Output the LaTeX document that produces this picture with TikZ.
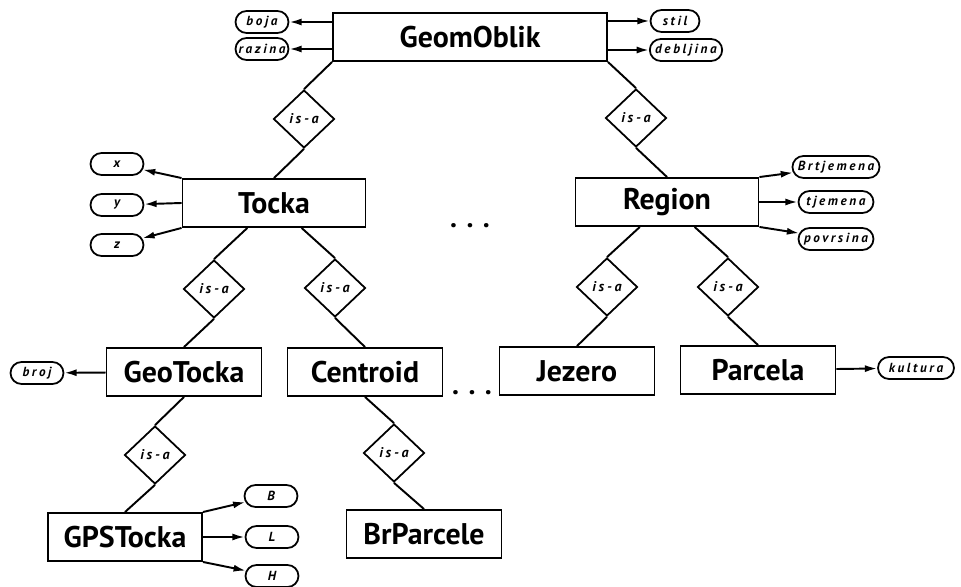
\documentclass[tikz,border=0pt]{standalone}
\usepackage{fontspec}
\setsansfont{PT Sans}
\newfontfamily\attrfont[LetterSpace=20]{PT Sans}
\usetikzlibrary{shapes.geometric,shapes.misc,arrows.meta}

\tikzset{
  entity/.style={draw, line width=1.1pt, minimum height=0.96cm, minimum width=3.1cm,
    font=\sffamily\bfseries\fontsize{17}{19}\selectfont},
  attrib/.style={draw, rounded rectangle, line width=1pt, minimum height=0.44cm,
    minimum width=1.2cm, inner xsep=2pt, inner ysep=0pt,
    font=\attrfont\bfseries\itshape\fontsize{7.5}{9}\selectfont},
  isa/.style={draw, diamond, line width=1pt, minimum width=1.22cm, minimum height=1.16cm,
    inner sep=0pt, font=\attrfont\bfseries\itshape\fontsize{8}{9}\selectfont},
  link/.style={line width=1.1pt},
  attr arrow/.style={line width=1.1pt, -{Latex[length=7pt,width=4pt]}},
}

\begin{document}
\begin{tikzpicture}[x=0.02cm, y=-0.02cm]
        \useasboundingbox (0,0) rectangle (961,587);

        % Entities
        \node[entity, minimum width=5.48cm] (GeomOblik) at (470,37) {GeomOblik};
        \node[entity, minimum width=3.66cm] (Tocka) at (274,203) {Tocka};
        \node[entity, minimum width=3.66cm] (Region) at (667,202) {Region};
        \node[entity] (GeoTocka) at (184,372) {GeoTocka};
        \node[entity] (Centroid) at (365,372) {Centroid};
        \node[entity] (Jezero) at (577,371) {Jezero};
        \node[entity] (Parcela) at (758,370) {Parcela};
        \node[entity, minimum width=3.08cm] (GPSTocka) at (125,537) {GPSTocka};
        \node[entity] (BrParcele) at (424,534) {BrParcele};

        \node[font=\sffamily\bfseries\fontsize{16}{18}\selectfont] (dotsA) at (470,226) {. . .};
        \node[font=\sffamily\bfseries\fontsize{16}{18}\selectfont] (dotsB) at (472,393) {. . .};

        % Is-a
        \node[isa] (isaA) at (304,119) {is-a};
        \node[isa] (isaB) at (636,118) {is-a};
        \node[isa] (isaC) at (214,289) {is-a};
        \node[isa] (isaD) at (335,288) {is-a};
        \node[isa] (isaE) at (607,287) {is-a};
        \node[isa] (isaF) at (728,287) {is-a};
        \node[isa] (isaG) at (155,455) {is-a};
        \node[isa] (isaH) at (394,453) {is-a};

        % Attributes
        \node[attrib] (boja) at (262,22) {boja};
        \node[attrib] (razina) at (262,49) {razina};
        \node[attrib, minimum width=1.12cm] (stil) at (675,21) {stil};
        \node[attrib] (debljina) at (686,50) {debljina};
        \node[attrib] (x) at (117,164) {x};
        \node[attrib] (y) at (117,205) {y};
        \node[attrib] (z) at (117,245) {z};
        \node[attrib, minimum width=1.64cm] (Brtjemena) at (836,167) {Brtjemena};
        \node[attrib, minimum width=1.64cm] (tjemena) at (836,202) {tjemena};
        \node[attrib, minimum width=1.64cm] (povrsina) at (836,239) {povrsina};
        \node[attrib] (broj) at (37,373) {broj};
        \node[attrib, minimum width=1.66cm] (kultura) at (916,368) {kultura};
        \node[attrib] (B) at (271,496) {B};
        \node[attrib] (L) at (272,537) {L};
        \node[attrib] (H) at (272,576) {H};

        % Edge
        \draw[link] (GeomOblik.south west) -- (isaA.north);
        \draw[link] (isaA.south) -- (Tocka.north);
        \draw[link] (GeomOblik.south east) -- (isaB.north);
        \draw[link] (isaB.south) -- (Region.north);
        \draw[link] (Tocka) -- (isaC.north);
        \draw[link] (isaC.south) -- (GeoTocka.north);
        \draw[link] (Tocka) -- (isaD.north);
        \draw[link] (isaD.south) -- (Centroid.north);
        \draw[link] (Region) -- (isaE.north);
        \draw[link] (isaE.south) -- (Jezero.north);
        \draw[link] (Region) -- (isaF.north);
        \draw[link] (isaF.south) -- (Parcela.north);
        \draw[link] (GeoTocka.south) -- (isaG.north);
        \draw[link] (isaG.south) -- (GPSTocka.north);
        \draw[link] (Centroid.south) -- (isaH.north);
        \draw[link] (isaH.south) -- (BrParcele.north);

        % Attribute arrows
        \draw[attr arrow] (GeomOblik.west |- boja) -- (boja);
        \draw[attr arrow] (GeomOblik.west |- razina) -- (razina);
        \draw[attr arrow] (GeomOblik.east |- stil) -- (stil);
        \draw[attr arrow] (GeomOblik.east |- debljina) -- (debljina);
        \draw[attr arrow] (Tocka.north west) -- (x);
        \draw[attr arrow] (Tocka.west) -- (y);
        \draw[attr arrow] (Tocka.south west) -- (z);
        \draw[attr arrow] (Region.north east) -- (Brtjemena);
        \draw[attr arrow] (Region.east) -- (tjemena);
        \draw[attr arrow] (Region.south east) -- (povrsina);
        \draw[attr arrow] (GeoTocka) -- (broj);
        \draw[attr arrow] (Parcela) -- (kultura);
        \draw[attr arrow] (GPSTocka.north east) -- (B);
        \draw[attr arrow] (GPSTocka.east) -- (L);
        \draw[attr arrow] (GPSTocka.south east) -- (H);
\end{tikzpicture}
\end{document}
